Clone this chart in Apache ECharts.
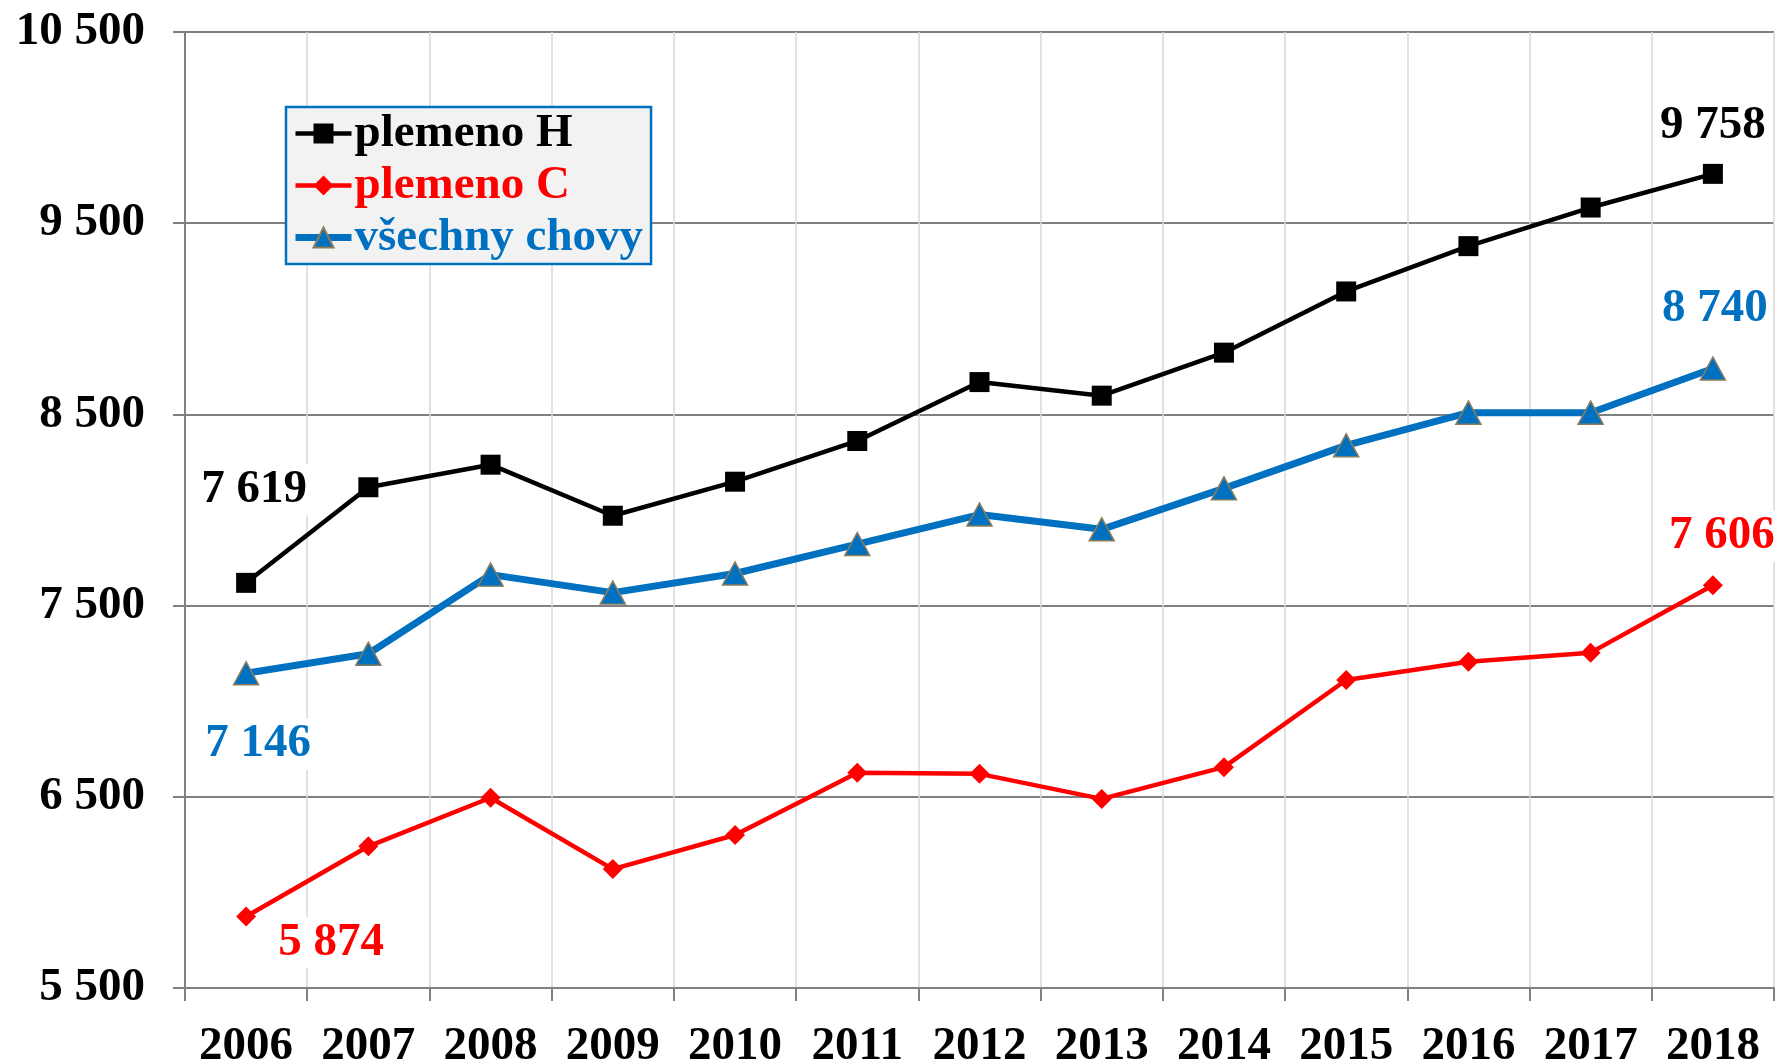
<!DOCTYPE html>
<html>
<head>
<meta charset="utf-8">
<script src="https://cdn.jsdelivr.net/npm/echarts@6/dist/echarts.min.js"></script>
<style>
html,body{margin:0;padding:0;background:#fff;}
#chart{width:1777px;height:1064px;}
</style>
</head>
<body>
<div id="chart"></div>
<script>
const years = ['2006','2007','2008','2009','2010','2011','2012','2013','2014','2015','2016','2017','2018'];
const plemenoH = [7619, 8119, 8237, 7970, 8148, 8361, 8669, 8598, 8823, 9143, 9380, 9582, 9758];
const plemenoC = [5874, 6241, 6495, 6122, 6300, 6626, 6620, 6489, 6655, 7111, 7206, 7254, 7606];
const vsechnyChovy = [7146, 7248, 7662, 7568, 7668, 7822, 7976, 7899, 8113, 8338, 8509, 8509, 8740];
const seriesNames = ['plemeno H', 'plemeno C', 'všechny chovy'];
const yTicks = [5500, 6500, 7500, 8500, 9500, 10500];

const FONT = '"Liberation Serif", "Times New Roman", serif';
const FS = 47;
const fmt = v => {
  const t = Math.floor(v / 1000), r = v % 1000;
  return t > 0 ? t + ' ' + String(r).padStart(3, '0') : String(r);
};

function withEndLabels(values, color, firstOffset, lastOffset) {
  return values.map((v, i) => {
    if (i === 0 || i === values.length - 1) {
      return {
        value: v,
        label: {
          show: true,
          position: 'inside',
          offset: i === 0 ? firstOffset : lastOffset,
          formatter: p => fmt(p.value),
          color: color,
          fontFamily: FONT,
          fontWeight: 'bold',
          fontSize: FS,
          backgroundColor: '#ffffff',
          padding: [2, 3]
        }
      };
    }
    return v;
  });
}

const chart = echarts.init(document.getElementById('chart'), null, {renderer: 'canvas'});
chart.setOption({
  backgroundColor: '#ffffff',
  animation: false,
  grid: {left: 185, right: 3, top: 32, bottom: 76, containLabel: false, outerBoundsMode: 'none'},
  legend: {
    left: 286, top: 107,
    orient: 'vertical',
    backgroundColor: '#f2f2f2',
    borderColor: '#0070c0',
    borderWidth: 2.5,
    borderRadius: 0,
    padding: [3, 8, 3, 6],
    itemGap: 5,
    itemWidth: 56,
    itemHeight: 25,
    lineStyle: {width: 'inherit'},
    textStyle: {fontFamily: FONT, fontWeight: 'bold', fontSize: FS, padding: [0, 0, 0, -2]},
    data: [
      {name: seriesNames[0], textStyle: {color: '#000000'}},
      {name: seriesNames[1], textStyle: {color: '#ff0000'}},
      {name: seriesNames[2], textStyle: {color: '#0070c0'}}
    ]
  },
  xAxis: {
    type: 'category',
    data: years,
    boundaryGap: true,
    axisLine: {lineStyle: {color: '#808080', width: 2}},
    axisTick: {show: true, length: 13, lineStyle: {color: '#808080', width: 2}},
    splitLine: {show: true, lineStyle: {color: '#d9d9d9', width: 1.5}},
    axisLabel: {fontFamily: FONT, fontWeight: 'bold', fontSize: FS, color: '#000', margin: 35}
  },
  yAxis: {
    type: 'value',
    min: yTicks[0], max: yTicks[yTicks.length - 1], interval: 1000,
    axisLine: {show: true, lineStyle: {color: '#808080', width: 2}},
    axisTick: {show: true, length: 12, lineStyle: {color: '#808080', width: 2}},
    splitLine: {show: true, lineStyle: {color: '#808080', width: 2}},
    axisLabel: {fontFamily: FONT, fontWeight: 'bold', fontSize: FS, color: '#000', margin: 40, formatter: fmt}
  },
  series: [
    {
      name: seriesNames[0], type: 'line',
      data: withEndLabels(plemenoH, '#000000', [8, -93], [0, -48]),
      symbol: 'rect', symbolSize: 20,
      itemStyle: {color: '#000000'},
      lineStyle: {color: '#000000', width: 4.5},
      z: 3
    },
    {
      name: seriesNames[1], type: 'line',
      data: withEndLabels(plemenoC, '#ff0000', [85, 26], [9, -49]),
      symbol: 'diamond', symbolSize: 20,
      itemStyle: {color: '#ff0000'},
      lineStyle: {color: '#ff0000', width: 4.5},
      z: 3
    },
    {
      name: seriesNames[2], type: 'line',
      data: withEndLabels(vsechnyChovy, '#0070c0', [12, 71], [2, -60]),
      symbol: 'triangle', symbolSize: [25, 23],
      itemStyle: {color: '#0070c0', borderColor: '#8c7b58', borderWidth: 1.5},
      lineStyle: {color: '#0070c0', width: 7},
      z: 4
    }
  ]
});
</script>
</body>
</html>
